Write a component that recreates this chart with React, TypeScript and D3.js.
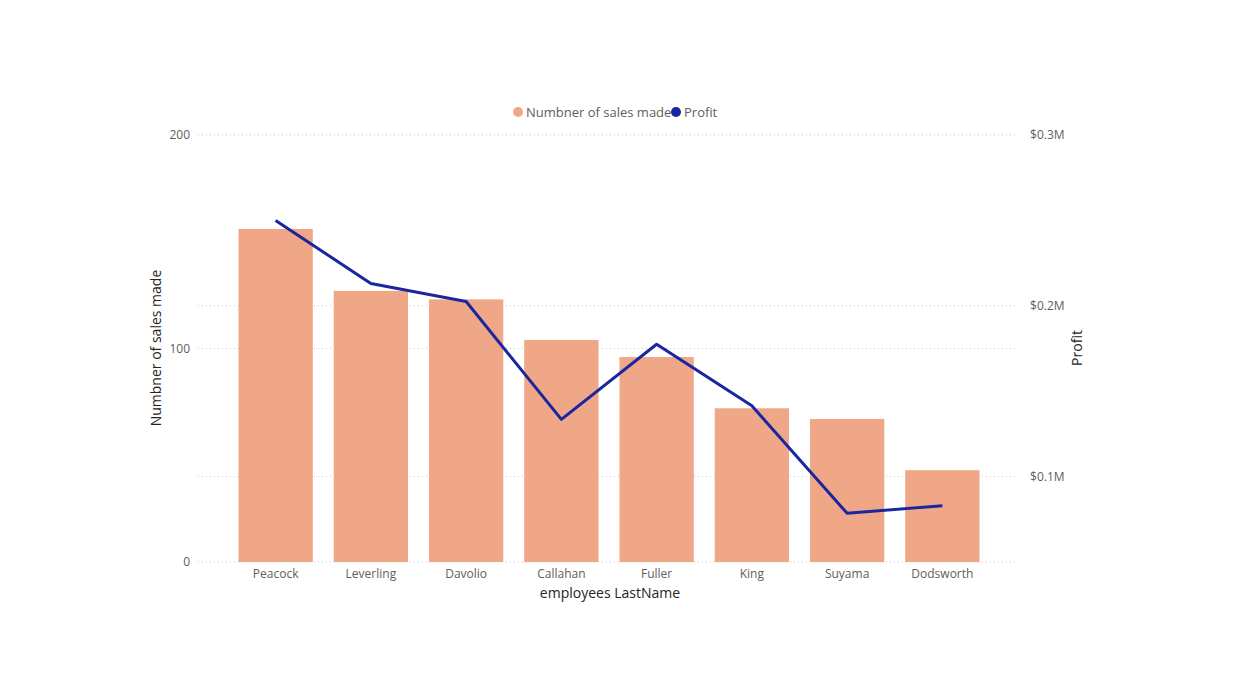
import * as d3 from 'd3';

const names = ['Peacock', 'Leverling', 'Davolio', 'Callahan', 'Fuller', 'King', 'Suyama', 'Dodsworth'];
const salesCount = [156, 127, 123, 104, 96, 72, 67, 43];
const profit = [250000, 213000, 202500, 133500, 177500, 141500, 78500, 83000];
const leftTicks = [0, 100, 200];
const rightTicks = [100000, 200000, 300000];

const W = 1240;
const H = 676;
const font = '"Segoe UI", "Open Sans", "DejaVu Sans", sans-serif';

export default function App() {
  const x = d3.scaleBand<string>().domain(names).range([228, 990]).paddingInner(0.22).paddingOuter(0.11);
  const yL = d3.scaleLinear().domain([0, 200]).range([562, 135]);
  const yR = d3.scaleLinear().domain([50000, 300000]).range([562, 135]);
  const line = d3
    .line<number>()
    .x((_, i) => (x(names[i]) ?? 0) + x.bandwidth() / 2)
    .y((d) => yR(d));

  return (
    <svg width={W} height={H} style={{ position: 'absolute', left: 0, top: 0, background: '#fff' }} fontFamily={font}>
      {/* gridlines */}
      {leftTicks.map((t) => (
        <line key={t} x1={198} x2={1018} y1={yL(t)} y2={yL(t)} stroke="#c8c8c8" strokeDasharray="1,3" />
      ))}
      {rightTicks.slice(0, 2).map((t) => (
        <line key={t} x1={198} x2={1018} y1={yR(t)} y2={yR(t)} stroke="#c8c8c8" strokeDasharray="1,3" />
      ))}

      {/* bars */}
      {names.map((n, i) => (
        <rect key={n} x={x(n)} y={yL(salesCount[i])} width={x.bandwidth()} height={yL(0) - yL(salesCount[i])} fill="#F0A787" />
      ))}

      <path d={line(profit) ?? ''} fill="none" stroke="#1A26A0" strokeWidth={3} strokeLinejoin="round" />

      {/* left axis */}
      {leftTicks.map((t) => (
        <text key={t} x={190} y={yL(t) + 4} textAnchor="end" fontSize={12} fill="#605E5C">{t}</text>
      ))}
      {/* right axis */}
      {rightTicks.map((t) => (
        <text key={t} x={1030} y={yR(t) + 4} fontSize={12} fill="#605E5C">${t / 1e6}M</text>
      ))}
      {/* x labels */}
      {names.map((n) => (
        <text key={n} x={(x(n) ?? 0) + x.bandwidth() / 2} y={578} textAnchor="middle" fontSize={12} fill="#605E5C">{n}</text>
      ))}

      <text x={610} y={598} textAnchor="middle" fontSize={14} fill="#252423">employees LastName</text>
      <text transform="translate(161,348) rotate(-90)" textAnchor="middle" fontSize={14} fill="#252423">Numbner of sales made</text>
      <text transform="translate(1082,348) rotate(-90)" textAnchor="middle" fontSize={14} fill="#252423">Profit</text>

      {/* legend */}
      <circle cx={518} cy={112} r={5} fill="#F0A787" />
      <text x={526} y={117} fontSize={13} fill="#605E5C">Numbner of sales made</text>
      <circle cx={676} cy={112} r={5} fill="#1A26A0" />
      <text x={684} y={117} fontSize={13} fill="#605E5C">Profit</text>
    </svg>
  );
}
